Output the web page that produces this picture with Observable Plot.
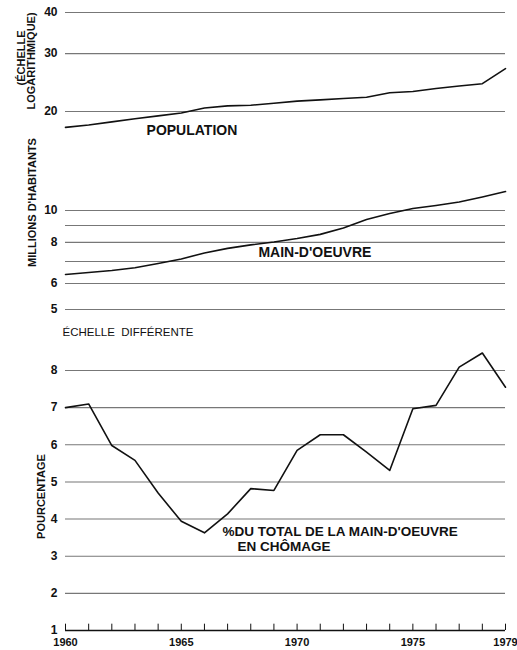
<!DOCTYPE html>
<html><head><meta charset="utf-8">
<script src="https://cdn.jsdelivr.net/npm/d3@7"></script>
<script src="https://cdn.jsdelivr.net/npm/@observablehq/plot@0.6"></script>
<style>
body{margin:0;background:#fff;}
#chart{width:517px;height:650px;overflow:hidden;background:#fff;}
#chart svg{display:block;}
</style></head><body><div id="chart"></div>
<script>
const years = [1960,1961,1962,1963,1964,1965,1966,1967,1968,1969,1970,1971,1972,1973,1974,1975,1976,1977,1978,1979];
const population = [17.9,18.2,18.6,19.0,19.4,19.8,20.5,20.8,20.9,21.2,21.5,21.7,21.9,22.1,22.8,23.0,23.5,23.9,24.3,27.0];
const labourForce = [6.39,6.48,6.57,6.70,6.90,7.12,7.43,7.67,7.86,8.02,8.22,8.46,8.85,9.39,9.79,10.14,10.36,10.61,10.99,11.42];
const unemployment = [7.0,7.1,5.98,5.58,4.7,3.94,3.63,4.14,4.82,4.77,5.85,6.27,6.27,5.8,5.31,6.97,7.06,8.09,8.47,7.55];
const logGrid = [5,6,7,8,9,10,20,30,40];
const logLabels = [5,6,8,10,20,30,40];
const pctGrid = [2,3,4,5,6,7,8];
const pctLabels = [1,2,3,4,5,6,7,8];
const yearLabels = [1960,1965,1970,1975,1979];

const pop = years.map((year,i)=>({year, value: population[i]}));
const lab = years.map((year,i)=>({year, value: labourForce[i]}));
const unemp = years.map((year,i)=>({year, value: unemployment[i]}));

const font = "'Liberation Sans', Arial, sans-serif";
const ink = "#111";
const grid = "#777";

const topPlot = Plot.plot({
  width: 517, height: 350,
  marginTop: 12, marginBottom: 41, marginLeft: 65, marginRight: 12,
  style: {fontFamily: font, color: ink, background: "#fff", overflow: "visible"},
  x: {domain: [1960, 1979], axis: null, label: null},
  y: {type: "log", domain: [5, 40], label: null},
  marks: [
    Plot.ruleY(logGrid, {stroke: grid, strokeWidth: 1.1}),
    Plot.axisY(logLabels, {tickSize: 0, tickPadding: 8, fontWeight: "bold", fontSize: 12, tickFormat: d => String(d), label: null}),
    Plot.line(pop, {x: "year", y: "value", stroke: ink, strokeWidth: 1.6}),
    Plot.line(lab, {x: "year", y: "value", stroke: ink, strokeWidth: 1.6}),
    Plot.text(["POPULATION"], {x: () => 1963.5, y: () => 17.5, text: d => d, textAnchor: "start", fontWeight: "bold", fontSize: 14, fill: ink}),
    Plot.text(["MAIN-D'OEUVRE"], {x: () => 1968.33, y: () => 7.43, text: d => d, textAnchor: "start", fontWeight: "bold", fontSize: 14, fill: ink}),
    Plot.text(["(ÉCHELLE"], {frameAnchor: "top-left", dx: -48, dy: 45.5, rotate: -90, text: d => d, textAnchor: "middle", fontWeight: "bold", fontSize: 11, fill: ink}),
    Plot.text(["LOGARITHMIQUE)"], {frameAnchor: "top-left", dx: -38.5, dy: 48.5, rotate: -90, text: d => d, textAnchor: "middle", fontWeight: "bold", fontSize: 11, fill: ink}),
    Plot.text(["MILLIONS D'HABITANTS"], {frameAnchor: "top-left", dx: -37, dy: 190, rotate: -90, text: d => d, textAnchor: "middle", fontWeight: "bold", fontSize: 11, fill: ink}),
    Plot.text(["ÉCHELLE  DIFFÉRENTE"], {frameAnchor: "bottom-left", dx: -3, dy: 26, text: d => d, textAnchor: "start", fontSize: 11.5, fill: ink})
  ]
});

const bottomPlot = Plot.plot({
  width: 517, height: 300,
  marginTop: 20, marginBottom: 20, marginLeft: 65, marginRight: 12,
  style: {fontFamily: font, color: ink, background: "#fff", overflow: "visible"},
  x: {domain: [1960, 1979], label: null},
  y: {domain: [1, 8], label: null},
  marks: [
    Plot.ruleY(pctGrid, {stroke: grid, strokeWidth: 1.1}),
    Plot.ruleY([1], {stroke: ink, strokeWidth: 1.4}),
    Plot.ruleX(years, {x: d => d, y1: () => 1, y2: () => 1.17, stroke: ink, strokeWidth: 1}),
    Plot.axisY(pctLabels, {tickSize: 0, tickPadding: 8, fontWeight: "bold", fontSize: 12, tickFormat: d => String(d), label: null}),
    Plot.axisX(yearLabels, {tickSize: 0, tickPadding: 8, fontWeight: "bold", fontSize: 11, tickFormat: d => String(d), label: null}),
    Plot.line(unemp, {x: "year", y: "value", stroke: ink, strokeWidth: 1.6}),
    Plot.text(["%DU TOTAL DE LA MAIN-D'OEUVRE\n\u00A0\u00A0\u00A0\u00A0EN CHÔMAGE"], {x: () => 1966.78, y: () => 3.48, text: d => d, textAnchor: "start", lineHeight: 1.15, fontWeight: "bold", fontSize: 13.5, fill: ink}),
    Plot.text(["POURCENTAGE"], {frameAnchor: "top-left", dx: -28, dy: 126, rotate: -90, text: d => d, textAnchor: "middle", fontWeight: "bold", fontSize: 11, fill: ink})
  ]
});

const chart = document.getElementById("chart");
chart.appendChild(topPlot);
chart.appendChild(bottomPlot);
</script></body></html>
